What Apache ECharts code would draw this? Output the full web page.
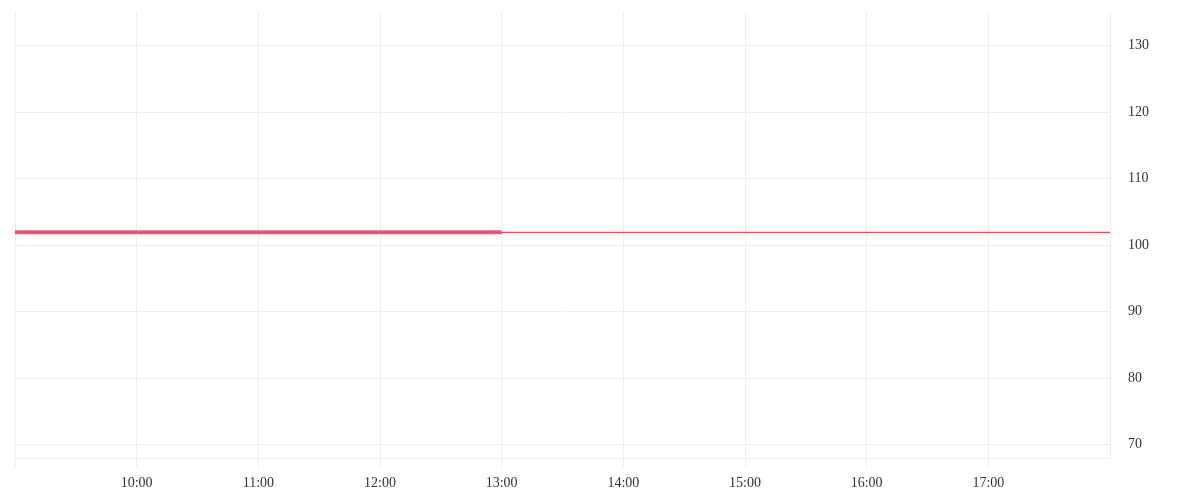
<!DOCTYPE html>
<html>
<head>
<meta charset="utf-8">
<script src="https://cdn.jsdelivr.net/npm/echarts@6/dist/echarts.min.js"></script>
<style>
  html, body { margin: 0; padding: 0; background: #fff; }
  #chart { width: 1200px; height: 500px; }
</style>
</head>
<body>
<div id="chart"></div>
<script>
// 当日时间范围
const day = '2024-01-02'
const axisStart = day + ' 09:00:00'
const axisEnd = day + ' 18:00:00'

// 分时价格（只到13:00）
const priceTimes = [day + ' 09:00:00', day + ' 10:00:00', day + ' 11:00:00', day + ' 12:00:00', day + ' 13:00:00']
const priceValues = [101.9, 101.9, 101.9, 101.9, 101.9]

// 参考线（昨收）
const refTimes = [day + ' 09:00:00', day + ' 18:00:00']
const refValues = [101.9, 101.9]

// y轴范围
const yMin = 68
const yMax = 135

const toPairs = (times, vals) => times.map((t, i) => [t, vals[i]])

let myEcharts = echarts.init(document.getElementById('chart'))
let option = {
  animation: false,
  grid: { left: 15, right: 90, top: 12, bottom: 42, containLabel: false, outerBoundsMode: 'none' },
  textStyle: { fontFamily: 'serif' },
  xAxis: {
    type: 'time',
    min: axisStart,
    max: axisEnd,
    interval: 3600 * 1000,
    splitNumber: 9,
    axisLine: { show: true, lineStyle: { color: '#eeeeee' } },
    axisTick: { show: true, length: 9, lineStyle: { color: '#eeeeee' } },
    splitLine: { show: true, lineStyle: { color: '#eeeeee' } },
    axisLabel: {
      showMinLabel: false,
      showMaxLabel: false,
      color: '#333',
      fontSize: 14,
      fontFamily: 'serif',
      margin: 18,
      formatter(v) {
        let d = new Date(v)
        let h = d.getHours()
        // 首尾不显示
        if (h <= 9 || h >= 18) return ''
        return String(h).padStart(2, '0') + ':' + String(d.getMinutes()).padStart(2, '0')
      }
    }
  },
  yAxis: {
    type: 'value',
    position: 'right',
    min: yMin,
    max: yMax,
    splitNumber: 7,
    axisLine: { show: false },
    axisTick: { show: false },
    splitLine: { show: true, showMaxLine: false, lineStyle: { color: '#eeeeee' } },
    axisLabel: {
      showMinLabel: false,
      showMaxLabel: false,
      color: '#333',
      fontSize: 14,
      fontFamily: 'serif',
      margin: 18
    }
  },
  series: [
    {
      name: '价格',
      type: 'line',
      showSymbol: false,
      data: toPairs(priceTimes, priceValues),
      lineStyle: { color: '#d95f95', width: 4 },
      z: 2
    },
    {
      name: '昨收',
      type: 'line',
      showSymbol: false,
      data: toPairs(refTimes, refValues),
      lineStyle: { color: '#f24b55', width: 1.2 },
      z: 3
    }
  ]
}
myEcharts.setOption(option)
</script>
</body>
</html>
